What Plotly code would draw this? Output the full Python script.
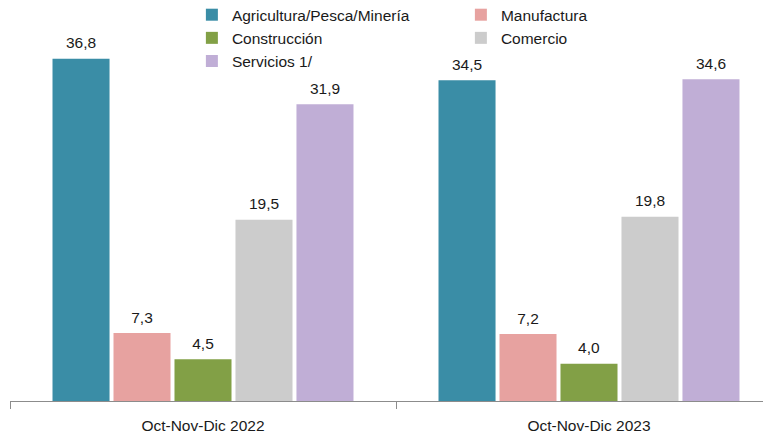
import plotly.graph_objects as go

# Categories and series
periodos = ["Oct-Nov-Dic 2022", "Oct-Nov-Dic 2023"]
sectores = ["Agricultura/Pesca/Minería", "Manufactura", "Construcción", "Comercio", "Servicios 1/"]
agricultura = [36.8, 34.5]
manufactura = [7.3, 7.2]
construccion = [4.5, 4.0]
comercio = [19.5, 19.8]
servicios = [31.9, 34.6]

valores = [agricultura, manufactura, construccion, comercio, servicios]
colores = ["#3A8DA6", "#E7A2A0", "#82A046", "#CCCCCC", "#C0AED6"]

FUENTE = "Liberation Sans, Arial, sans-serif"

fig = go.Figure()
for nombre, vals, color in zip(sectores, valores, colores):
    fig.add_trace(go.Bar(
        x=periodos,
        y=vals,
        name=nombre,
        marker=dict(color=color, line=dict(width=0)),
        # etiqueta con coma decimal; linea pequena vacia debajo para separarla de la barra
        text=["<span style='font-size:15.5px'>" + f"{v:.1f}".replace(".", ",") + "</span><br> " for v in vals],
        textposition="outside",
        textfont=dict(size=5, color="#1a1a1a", family=FUENTE),
        cliponaxis=False,
    ))

# la pagina tiene 8 px de margen en el body: figura de 763x429
fig.update_layout(
    width=763,
    height=429,
    margin=dict(l=2, r=0, t=21, b=36, autoexpand=False),
    paper_bgcolor="white",
    plot_bgcolor="white",
    font=dict(family=FUENTE, size=15.5, color="#1a1a1a"),
    barmode="group",
    bargap=0.21,
    bargroupgap=0.065,
    showlegend=True,
    legend=dict(
        orientation="h",
        x=0.239,
        xanchor="left",
        y=1.083,
        yanchor="top",
        entrywidth=224,
        entrywidthmode="pixels",
        font=dict(size=15.5, family=FUENTE),
        tracegroupgap=0,
        bgcolor="rgba(0,0,0,0)",
    ),
)

fig.update_xaxes(
    range=[-0.5, 1.4715],
    showline=True,
    linecolor="#8c8c8c",
    linewidth=1,
    ticks="outside",
    tickson="boundaries",
    ticklen=7,
    tickcolor="#8c8c8c",
    tickfont=dict(size=15.5, family=FUENTE),
    ticklabelstandoff=10,
    showgrid=False,
    automargin=False,
)
fig.update_yaxes(
    range=[0, 40],
    visible=False,
    showgrid=False,
)

fig.write_html("out.html")
